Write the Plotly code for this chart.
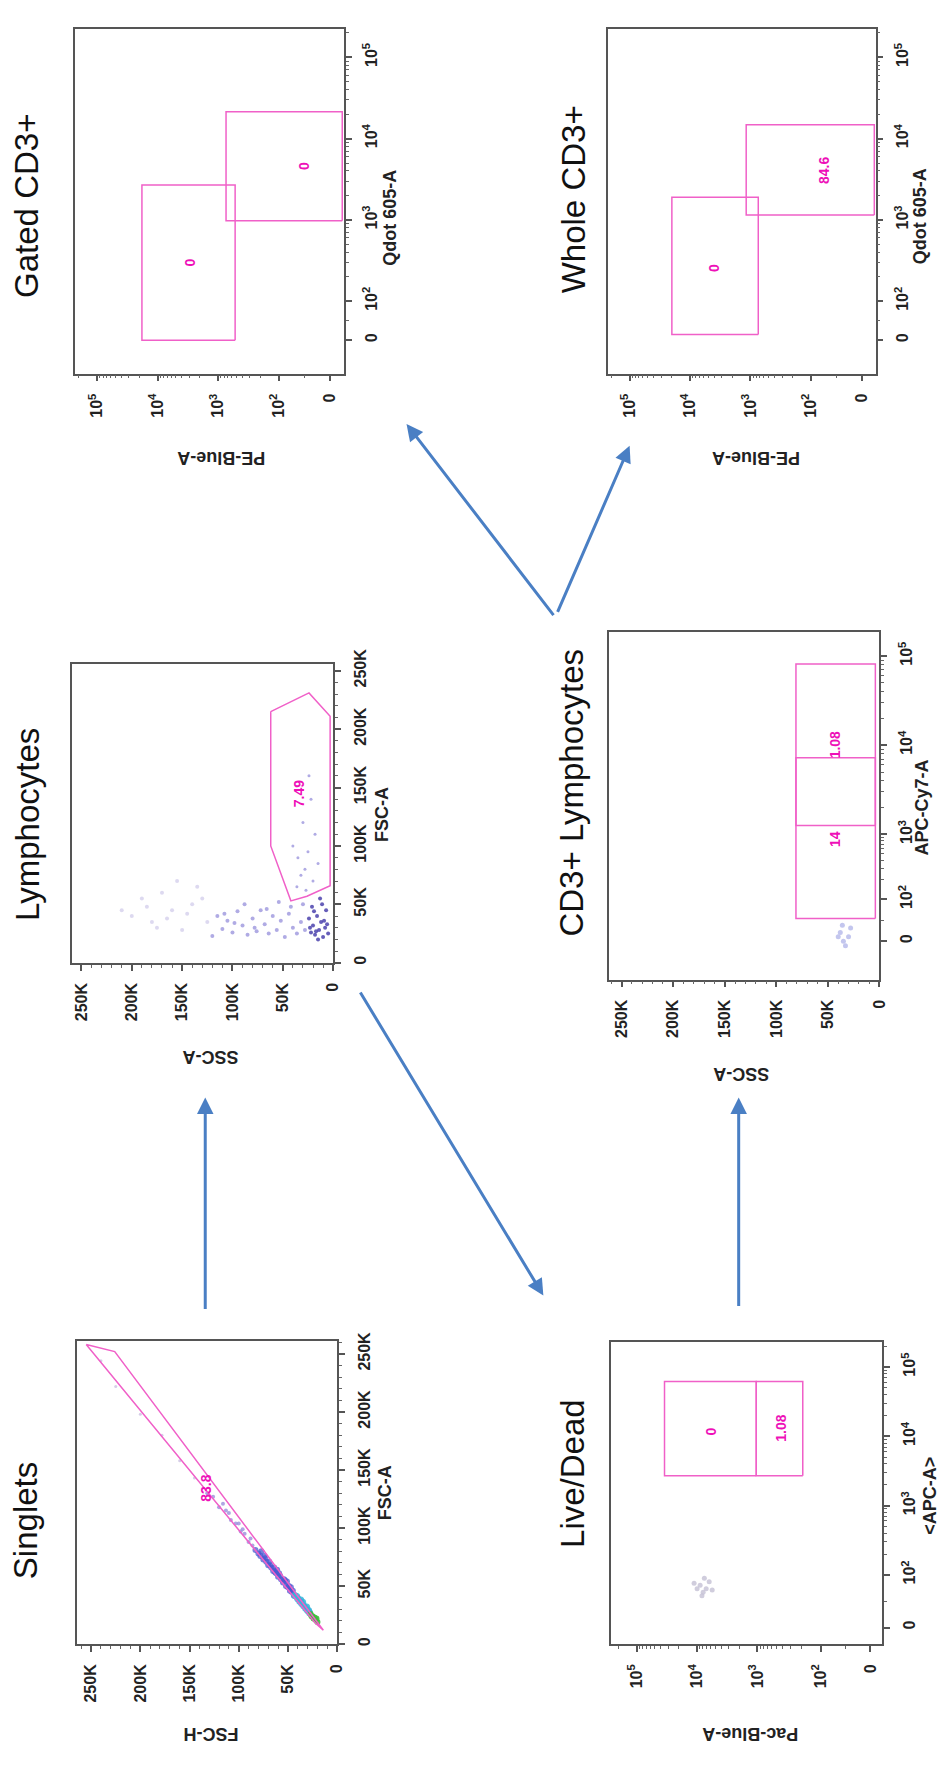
import math
import plotly.graph_objects as go

W, H = 944, 1765
FONT = "Liberation Sans, Arial, sans-serif"

# ------------------------------------------------------------------ data
# Tick labels
lin_tickvals = [0, 50000, 100000, 150000, 200000, 250000]
lin_ticktext = ["0", "50K", "100K", "150K", "200K", "250K"]
biex_ticktext = ["0", "10<sup>2</sup>", "10<sup>3</sup>", "10<sup>4</sup>", "10<sup>5</sup>"]

# biexponential display positions (decade units) of 0, 10^2, 10^3, 10^4, 10^5
pe_blue_ticks = [1.15, 2, 3, 4, 5]
qdot_ticks = [1.52, 2, 3, 4, 5]
pac_blue_ticks = [1.13, 1.95, 3, 4, 5]
apc_ticks = [1.24, 2, 3, 4, 5]
apccy7_ticks = [1.80, 2.27, 3, 4, 5]

# Singlets: FSC-H (horizontal) vs FSC-A (vertical), in K
sing_green_h = [20, 22, 23, 25, 24, 27, 21, 26]
sing_green_a = [19, 21, 23, 24, 22, 26, 22, 24]
sing_cyan_h = [28, 30, 32, 34, 36, 38, 40, 43, 31, 37, 29, 35, 41]
sing_cyan_a = [27, 29, 31, 33, 35, 37, 39, 42, 32, 38, 29, 36, 41]
sing_blue_h = [44, 46, 48, 50, 52, 55, 57, 60, 62, 65, 67, 70, 72, 75, 78, 80, 83, 47, 53, 58, 64, 69, 74, 51, 61,
               45, 49, 54, 59, 63, 68, 73, 77]
sing_blue_a = [42, 45, 46, 49, 50, 53, 56, 58, 61, 63, 66, 68, 71, 73, 76, 78, 81, 49, 55, 59, 66, 71, 76, 54, 64,
               46, 50, 56, 61, 62, 68, 74, 80]
sing_purple_h = [86, 90, 94, 98, 103, 108, 113, 120, 126, 132, 96, 110, 88, 100, 116]
sing_purple_a = [85, 88, 95, 97, 104, 107, 115, 118, 127, 130, 99, 113, 91, 104, 121]
sing_grey_h = [145, 160, 178, 200, 225, 240]
sing_grey_a = [143, 158, 180, 198, 222, 244]
sing_gate_h = [255, 226, 14, 22, 255]
sing_gate_a = [258, 252, 12, 18, 258]
sing_label = ("83.8", 134, 134)

# Lymphocytes: SSC-A (horizontal) vs FSC-A (vertical), in K
lym_dark_ssc = [5, 8, 10, 12, 14, 16, 18, 20, 22, 24, 7, 11, 15, 19, 23, 9, 13, 17, 21, 6]
lym_dark_fsc = [25, 30, 22, 35, 28, 40, 24, 32, 26, 38, 45, 50, 20, 44, 30, 36, 55, 27, 48, 33]
lym_mid_ssc = [28, 32, 36, 40, 44, 48, 52, 56, 60, 64, 68, 72, 76, 80, 85, 90, 95, 100, 105, 110, 115, 120,
               30, 42, 54, 66, 78, 88, 98, 108]
lym_mid_fsc = [28, 35, 25, 30, 42, 22, 36, 28, 40, 25, 33, 45, 27, 38, 24, 32, 44, 26, 36, 29, 40, 23,
               50, 48, 52, 46, 30, 50, 34, 42]
lym_light_ssc = [125, 130, 140, 150, 160, 170, 180, 190, 200, 135, 155, 175, 145, 165, 185, 210]
lym_light_fsc = [35, 55, 50, 28, 45, 60, 35, 55, 40, 65, 70, 30, 42, 38, 48, 45]
lym_gate_pts_ssc = [20, 28, 25, 32, 18, 35, 30, 22, 40, 15, 27, 36, 24]
lym_gate_pts_fsc = [70, 80, 95, 75, 110, 90, 120, 140, 100, 85, 62, 65, 160]
lym_gate_ssc = [62, 24, 3, 3, 26, 42, 62, 62]
lym_gate_fsc = [215, 231, 211, 66, 57, 53, 100, 215]
lym_label = ("7.49", 34, 145)

# Live/Dead: Pac-Blue-A (horizontal) vs <APC-A> (vertical), decade units
ld_blob_pac = [3.85, 3.90, 3.95, 3.80, 3.92, 4.00, 3.88, 3.75, 4.05]
ld_blob_apc = [1.80, 1.75, 1.85, 1.90, 1.70, 1.80, 1.95, 1.78, 1.88]
ld_gates_pac = [[3.02, 4.54], [2.25, 3.02]]
ld_gates_apc = [[3.43, 4.79], [3.43, 4.79]]
ld_labels = [("0", 3.77, 4.07), ("1.08", 2.61, 4.11)]

# CD3+ Lymphocytes: SSC-A (horizontal, K) vs APC-Cy7-A (vertical, decade units)
cd3_blob_ssc = [30, 35, 38, 28, 33, 40, 36]
cd3_blob_apccy7 = [1.85, 1.80, 1.90, 1.95, 1.75, 1.85, 1.98]
cd3_gates_ssc = [[4, 81], [4, 81]]
cd3_gates_apccy7 = [[3.10, 4.91], [2.056, 3.86]]
cd3_labels = [("1.08", 43, 4.0), ("14", 43, 2.95)]

# Gated CD3+ / Whole CD3+: PE-Blue-A (horizontal) vs Qdot 605-A (vertical)
gated_gates_pe = [[2.72, 4.26], [0.95, 2.87]]
gated_gates_qdot = [[1.52, 3.43], [2.99, 4.33]]
gated_labels = [("0", 3.46, 2.48), ("0", 1.57, 3.66)]
whole_gates_pe = [[2.87, 4.30], [0.95, 3.07]]
whole_gates_qdot = [[1.59, 3.28], [3.06, 4.17]]
whole_labels = [("0", 3.60, 2.41), ("84.6", 1.77, 3.61)]

# ------------------------------------------------------------------ layout helpers
def dom_x(l, r):
    return [l / W, r / W]


def dom_y(t, b):
    return [1 - b / H, 1 - t / H]


def biex_minor(t):
    out = []
    for i in range(1, 4):
        a, b = t[i], t[i + 1]
        for m in range(2, 10):
            out.append(a + (b - a) * math.log10(m))
    out.append(t[4] + (t[4] - t[3]) * math.log10(2))
    out.append((t[0] + t[1]) / 2)
    return out


def make_axis(domain, rng, tickvals, ticktext, anchor, side, minor_vals=None, minor_dtick=None):
    minor = dict(ticks="outside", ticklen=3, tickwidth=1, tickcolor="#666")
    if minor_vals is not None:
        minor.update(tickmode="array", tickvals=minor_vals)
    else:
        minor.update(dtick=minor_dtick, tick0=0)
    return dict(
        domain=domain, range=rng, anchor=anchor, side=side,
        tickmode="array", tickvals=tickvals, ticktext=ticktext, tickangle=-90,
        showline=True, mirror=True, linecolor="#555", linewidth=1.5,
        ticks="outside", ticklen=6, tickwidth=1.5, tickcolor="#555",
        showgrid=False, zeroline=False, fixedrange=True,
        tickfont=dict(family=FONT, size=16, color="#222", weight="bold"),
        ticklabelstandoff=6, minor=minor,
    )


K = 1000
panels = [
    (1, (76, 14, 347, 362), [5.36, 0.92], pe_blue_ticks, biex_ticktext, biex_minor(pe_blue_ticks),
     [1.11, 5.35], qdot_ticks, biex_ticktext, biex_minor(qdot_ticks)),
    (2, (613, 14, 883, 362), [5.36, 0.93], pe_blue_ticks, biex_ticktext, biex_minor(pe_blue_ticks),
     [1.11, 5.35], qdot_ticks, biex_ticktext, biex_minor(qdot_ticks)),
    (3, (73, 655, 336, 957), [259 * K, 0], lin_tickvals, lin_ticktext, None,
     [0, 256 * K], lin_tickvals, lin_ticktext, None),
    (4, (614, 623, 887, 974), [262.5 * K, 0], lin_tickvals, lin_ticktext, None,
     [1.37, 5.27], apccy7_ticks, biex_ticktext, biex_minor(apccy7_ticks)),
    (5, (78, 1339, 340, 1645), [264 * K, 0], lin_tickvals, lin_ticktext, None,
     [0, 261 * K], lin_tickvals, lin_ticktext, None),
    (6, (616, 1340, 890, 1645), [5.43, 0.93], pac_blue_ticks, biex_ticktext, biex_minor(pac_blue_ticks),
     [1.0, 5.36], apc_ticks, biex_ticktext, biex_minor(apc_ticks)),
]

layout = dict(
    width=W, height=H, margin=dict(l=0, r=0, t=0, b=0),
    paper_bgcolor="white", plot_bgcolor="white", showlegend=False,
    font=dict(family=FONT, color="#222"),
)
for (i, (l, t, r, b), xr, xt, xtt, xm, yr, yt, ytt, ym) in panels:
    sfx = "" if i == 1 else str(i)
    layout["xaxis" + sfx] = make_axis(dom_x(l, r), xr, xt, xtt, "y" + sfx, "bottom",
                                      minor_vals=xm, minor_dtick=10000)
    layout["yaxis" + sfx] = make_axis(dom_y(t, b), yr, yt, ytt, "x" + sfx, "right",
                                      minor_vals=ym, minor_dtick=10000)

fig = go.Figure(layout=layout)

GATE = "#f060c8"
LABEL = "#ee10b8"


def ax(i):
    return ("x", "y") if i == 1 else ("x%d" % i, "y%d" % i)


def pts(i, xs, ys, color, size=4, sx=1, sy=1, opacity=0.9):
    xa, ya = ax(i)
    fig.add_trace(go.Scatter(x=[v * sx for v in xs], y=[v * sy for v in ys], mode="markers",
                             xaxis=xa, yaxis=ya, hoverinfo="skip",
                             marker=dict(color=color, size=size, opacity=opacity, line=dict(width=0))))


def rect(i, xr, yr, sx=1, width=1.5):
    xa, ya = ax(i)
    x0, x1 = xr[0] * sx, xr[1] * sx
    fig.add_trace(go.Scatter(x=[x0, x1, x1, x0, x0], y=[yr[0], yr[0], yr[1], yr[1], yr[0]],
                             mode="lines", xaxis=xa, yaxis=ya, hoverinfo="skip",
                             line=dict(color=GATE, width=width)))


def poly(i, xs, ys, scale=1):
    xa, ya = ax(i)
    fig.add_trace(go.Scatter(x=[v * scale for v in xs], y=[v * scale for v in ys], mode="lines",
                             xaxis=xa, yaxis=ya, hoverinfo="skip",
                             line=dict(color=GATE, width=1.5)))


annotations = []


def gate_label(i, text, x, y):
    xa, ya = ax(i)
    annotations.append(dict(x=x, y=y, xref=xa, yref=ya, text="<b>%s</b>" % text, showarrow=False,
                            textangle=-90, font=dict(family=FONT, size=14, color=LABEL)))


# Singlets (panel 5)
pts(5, sing_grey_h, sing_grey_a, "#d0c8e4", 3, K, K)
pts(5, sing_purple_h, sing_purple_a, "#9a90dc", 4, K, K, 0.8)
pts(5, sing_blue_h, sing_blue_a, "#4a58d0", 6, K, K, 0.75)
pts(5, sing_cyan_h, sing_cyan_a, "#36b4da", 7, K, K, 0.85)
pts(5, sing_green_h, sing_green_a, "#3cbf3c", 6, K, K)
poly(5, sing_gate_h, sing_gate_a, K)
gate_label(5, sing_label[0], sing_label[1] * K, sing_label[2] * K)

# Lymphocytes (panel 3)
pts(3, lym_light_ssc, lym_light_fsc, "#d4d0ec", 4, K, K, 0.8)
pts(3, lym_mid_ssc, lym_mid_fsc, "#8f88d8", 4, K, K, 0.7)
pts(3, lym_gate_pts_ssc, lym_gate_pts_fsc, "#8f88d8", 3, K, K, 0.7)
pts(3, lym_dark_ssc, lym_dark_fsc, "#4036a8", 4, K, K, 0.8)
poly(3, lym_gate_ssc, lym_gate_fsc, K)
gate_label(3, lym_label[0], lym_label[1] * K, lym_label[2] * K)

# Live/Dead (panel 6)
pts(6, ld_blob_pac, ld_blob_apc, "#c4c0d4", 5, 1, 1, 0.8)
for gx, gy in zip(ld_gates_pac, ld_gates_apc):
    rect(6, gx, gy)
for txt, x, y in ld_labels:
    gate_label(6, txt, x, y)

# CD3+ Lymphocytes (panel 4)
pts(4, cd3_blob_ssc, cd3_blob_apccy7, "#b4b8ea", 5, K, 1, 0.8)
for gx, gy in zip(cd3_gates_ssc, cd3_gates_apccy7):
    rect(4, gx, gy, sx=K)
for txt, x, y in cd3_labels:
    gate_label(4, txt, x * K, y)

# Gated CD3+ (panel 1) and Whole CD3+ (panel 2)
for gx, gy in zip(gated_gates_pe, gated_gates_qdot):
    rect(1, gx, gy)
for txt, x, y in gated_labels:
    gate_label(1, txt, x, y)
for gx, gy in zip(whole_gates_pe, whole_gates_qdot):
    rect(2, gx, gy)
for txt, x, y in whole_labels:
    gate_label(2, txt, x, y)

# ------------------------------------------------------------------ texts (px positions)
def paper_text(px, py, text, angle, size, bold=False, color="#111"):
    annotations.append(dict(x=px / W, y=1 - py / H, xref="paper", yref="paper",
                            text=("<b>%s</b>" % text) if bold else text, showarrow=False,
                            textangle=angle, xanchor="center", yanchor="middle",
                            font=dict(family=FONT, size=size, color=color)))


titles = [("Gated CD3+", 26, 193), ("Whole CD3+", 578, 186), ("Lymphocytes", 27, 817),
          ("CD3+ Lymphocytes", 576, 785), ("Singlets", 26, 1520), ("Live/Dead", 578, 1473)]
for txt, x, y in titles:
    paper_text(x, y, txt, -90, 33)

right_titles = [("Qdot 605-A", 393, 205), ("Qdot 605-A", 928, 203), ("FSC-A", 385, 807),
                ("APC-Cy7-A", 930, 800), ("FSC-A", 388, 1492), ("&lt;APC-A&gt;", 938, 1495)]
for txt, x, y in right_titles:
    paper_text(x, y, txt, -90, 18, bold=True, color="#222")

bottom_titles = [("PE-Blue-A", 223, 448), ("PE-Blue-A", 763, 448), ("SSC-A", 212, 1052),
                 ("SSC-A", 748, 1070), ("FSC-H", 213, 1735), ("Pac-Blue-A", 757, 1735)]
for txt, x, y in bottom_titles:
    paper_text(x, y, txt, 180, 18, bold=True, color="#222")

# arrows: (tail px, tip px)
arrows = [((207, 1313), (207, 1093)), ((745, 1310), (745, 1093)), ((362, 985), (548, 1293)),
          ((560, 608), (410, 413)), ((560, 608), (635, 435))]
for (tx, ty), (hx, hy) in arrows:
    annotations.append(dict(x=hx / W, y=1 - hy / H, xref="paper", yref="paper",
                            ax=tx - hx, ay=ty - hy, axref="pixel", ayref="pixel",
                            showarrow=True, arrowhead=2, arrowsize=1.1, arrowwidth=3,
                            arrowcolor="#4a7fc4", text=" "))

fig.update_layout(annotations=annotations)
fig.write_html("out.html")
